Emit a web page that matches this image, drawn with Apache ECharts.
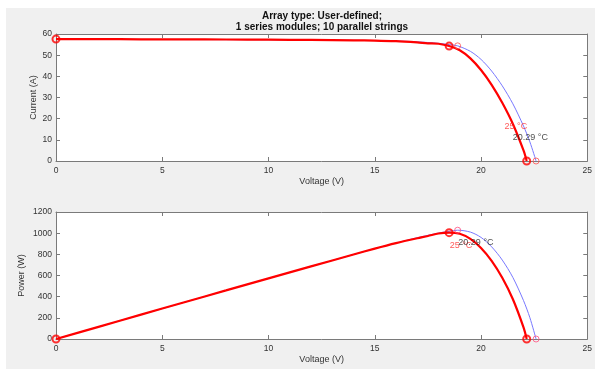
<!DOCTYPE html>
<html><head><meta charset="utf-8">
<script src="https://cdn.jsdelivr.net/npm/echarts@6/dist/echarts.min.js"></script>
<style>html,body{margin:0;padding:0;background:#fff;}#c{width:595px;height:369px;}</style>
</head><body><div id="c"></div>
<script>
// ---- data ----
const titleLines = ['Array type: User-defined;', '1 series modules; 10 parallel strings'];
const xTicks = [0, 5, 10, 15, 20, 25];
const currentTicks = [0, 10, 20, 30, 40, 50, 60];
const powerTicks = [0, 200, 400, 600, 800, 1000, 1200];

// 25 °C curve
const voltRed    = [0, 2, 4, 6, 8, 10, 12, 14, 15, 16, 17, 17.5, 18, 18.5, 19, 19.5, 20, 20.5, 21, 21.5, 22, 22.15];
const currentRed = [57.6, 57.6, 57.5, 57.5, 57.4, 57.3, 57.2, 57.0, 56.9, 56.6, 56.0, 55.6, 55.4, 54.3, 52.3, 48.5, 43.0, 36.0, 27.5, 17.5, 5.0, 0];
const powerRed   = [0, 115, 230, 345, 459, 573, 686, 798, 854, 906, 952, 973, 997, 1005, 994, 946, 860, 738, 578, 376, 110, 0];
const mppRedIdx = 13;

// 20.29 °C curve
const voltBlue    = [0, 5, 10, 15, 16, 17, 18, 18.5, 18.9, 19.5, 20, 20.5, 21, 21.5, 22, 22.3, 22.59];
const currentBlue = [57.5, 57.4, 57.3, 56.9, 56.7, 56.3, 55.6, 55.0, 54.4, 51.8, 48.0, 42.5, 35.5, 27.0, 16.5, 9.0, 0];
const powerBlue   = [0, 287, 573, 854, 907, 957, 1001, 1018, 1028, 1010, 960, 871, 746, 581, 363, 201, 0];
const mppBlueIdx = 8;

// temperature labels [V, value]
const labelRed  = '25 °C';
const labelBlue = '20.29 °C';
const labelRedIV = [21.64, 16.5];
const labelBlueIV = [22.32, 10.9];
const labelRedP = [19.06, 886];
const labelBlueP = [19.76, 914];

// ---- chart ----
const zip = (a, b) => a.map((v, i) => [v, b[i]]);
const chart = echarts.init(document.getElementById('c'), null, {renderer: 'canvas'});
const axisCol = '#7a7a7a';
const txtCol = '#333';
const font = 'Liberation Sans, Arial, Helvetica, sans-serif';

function xAx(grid, showLabels, pos) {
  return {
    type: 'value', gridIndex: grid, min: 0, max: 25, interval: 5, position: pos,
    axisLine: {show: true, onZero: false, lineStyle: {color: axisCol, width: 1}},
    axisTick: {show: true, inside: true, length: 4, lineStyle: {color: axisCol}},
    axisLabel: {show: showLabels, color: txtCol, fontSize: 8.5, fontFamily: font, margin: 5,
      formatter: v => xTicks.includes(v) ? String(v) : ''},
    splitLine: {show: false},
    name: showLabels ? 'Voltage (V)' : '', nameLocation: 'middle', nameGap: 16.5, nameMoveOverlap: false,
    nameTextStyle: {color: txtCol, fontSize: 9, fontFamily: font}
  };
}
function yAx(grid, max, interval, ticks, showLabels, pos, name, gap) {
  return {
    type: 'value', gridIndex: grid, min: 0, max: max, interval: interval, position: pos,
    axisLine: {show: true, onZero: false, lineStyle: {color: axisCol, width: 1}},
    axisTick: {show: true, inside: true, length: 4, lineStyle: {color: axisCol}},
    axisLabel: {show: showLabels, color: txtCol, fontSize: 8.5, fontFamily: font, margin: 4,
      formatter: v => ticks.includes(v) ? String(v) : ''},
    splitLine: {show: false},
    name: showLabels ? name : '', nameLocation: 'middle', nameGap: gap, nameMoveOverlap: false,
    nameTextStyle: {color: txtCol, fontSize: 9, fontFamily: font}
  };
}

const redLine = {color: '#ff0000', width: 2.2};
const blueLine = {color: '#7878ff', width: 1};

function curveSeries(xi, yi, xs, ys, style, z) {
  return {type: 'line', xAxisIndex: xi, yAxisIndex: yi, data: zip(xs, ys), showSymbol: false,
    smooth: 0.3, lineStyle: style, z: z, animation: false, silent: true};
}
function markerSeries(xi, yi, pts, color, size, lw, z) {
  return {type: 'scatter', xAxisIndex: xi, yAxisIndex: yi, data: pts, symbol: 'circle', symbolSize: size,
    itemStyle: {color: 'rgba(0,0,0,0)', borderColor: color, borderWidth: lw}, z: z, animation: false, silent: true};
}
function labelSeries(xi, yi, pt, text, color) {
  return {type: 'scatter', xAxisIndex: xi, yAxisIndex: yi, data: [pt], symbolSize: 0, z: 20, animation: false, silent: true,
    label: {show: true, position: 'inside', formatter: text, color: color, fontSize: 9, fontFamily: font}};
}

const nR = voltRed.length - 1, nB = voltBlue.length - 1;

chart.setOption({
  backgroundColor: '#ffffff',
  animation: false,
  graphic: [
    {type: 'rect', shape: {x: 6, y: 8, width: 600, height: 400}, style: {fill: '#f0f0f0'}, z: -10},
    {type: 'text', x: 322, y: 16, style: {text: titleLines[0], font: 'bold 10px ' + font, fill: '#111', textAlign: 'center', textVerticalAlign: 'middle'}, z: 10},
    {type: 'text', x: 322, y: 27, style: {text: titleLines[1], font: 'bold 10px ' + font, fill: '#111', textAlign: 'center', textVerticalAlign: 'middle'}, z: 10}
  ],
  grid: [
    {left: 56, right: 7, top: 34, height: 127, backgroundColor: '#fff', show: true, borderWidth: 0},
    {left: 56, right: 7, top: 212, height: 127, backgroundColor: '#fff', show: true, borderWidth: 0}
  ],
  xAxis: [
    xAx(0, true, 'bottom'), xAx(0, false, 'top'),
    xAx(1, true, 'bottom'), xAx(1, false, 'top')
  ],
  yAxis: [
    yAx(0, 60, 10, currentTicks, true, 'left', 'Current (A)', 18),
    yAx(0, 60, 10, currentTicks, false, 'right', '', 0),
    yAx(1, 1200, 200, powerTicks, true, 'left', 'Power (W)', 30),
    yAx(1, 1200, 200, powerTicks, false, 'right', '', 0)
  ],
  series: [
    curveSeries(0, 0, voltBlue, currentBlue, blueLine, 2),
    curveSeries(0, 0, voltRed, currentRed, redLine, 3),
    markerSeries(0, 0, [[voltBlue[mppBlueIdx], currentBlue[mppBlueIdx]], [voltBlue[nB], currentBlue[nB]]], '#ff5050', 6, 1, 4),
    markerSeries(0, 0, [[voltRed[0], currentRed[0]], [voltRed[mppRedIdx], currentRed[mppRedIdx]], [voltRed[nR], currentRed[nR]]], '#ff0000', 7, 2, 5),
    labelSeries(0, 0, labelRedIV, labelRed, '#ff3030'),
    labelSeries(0, 0, labelBlueIV, labelBlue, '#222'),

    curveSeries(2, 2, voltBlue, powerBlue, blueLine, 2),
    curveSeries(2, 2, voltRed, powerRed, redLine, 3),
    markerSeries(2, 2, [[voltBlue[mppBlueIdx], powerBlue[mppBlueIdx]], [voltBlue[nB], powerBlue[nB]]], '#ff5080', 6, 1, 4),
    markerSeries(2, 2, [[voltRed[0], powerRed[0]], [voltRed[mppRedIdx], powerRed[mppRedIdx]], [voltRed[nR], powerRed[nR]]], '#ff0000', 7, 2, 5),
    labelSeries(2, 2, labelRedP, labelRed, '#ff3030'),
    labelSeries(2, 2, labelBlueP, labelBlue, '#222')
  ]
});
</script></body></html>
